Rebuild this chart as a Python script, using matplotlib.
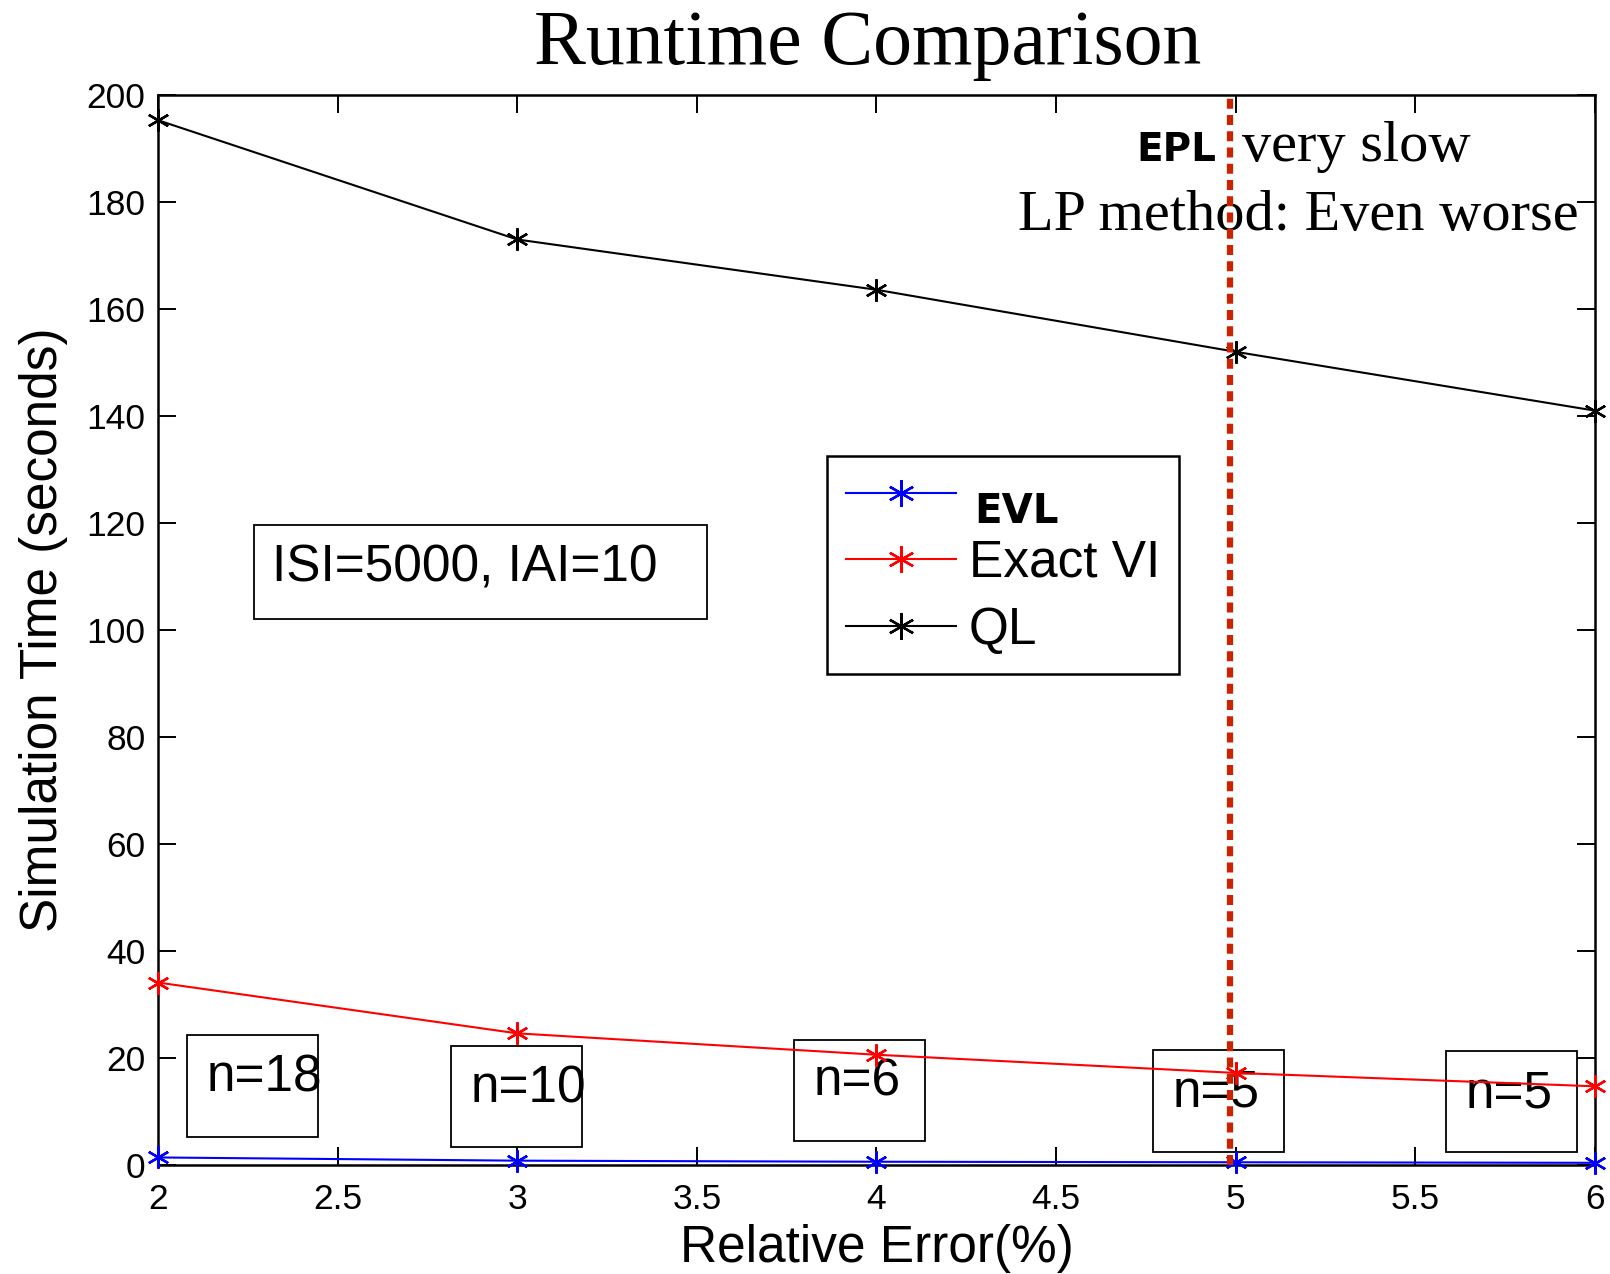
import matplotlib
matplotlib.use('Agg')
import matplotlib.pyplot as plt
from matplotlib.patches import Rectangle
from matplotlib.ticker import MultipleLocator, FormatStrFormatter

plt.rcParams['font.family'] = 'Liberation Sans'

# relative error (%) vs. simulation time (s)
rel_error = [2, 3, 4, 5, 6]
evl_time = [1.4, 0.8, 0.6, 0.5, 0.4]
exact_vi_time = [34.1, 24.6, 20.6, 17.2, 14.7]
ql_time = [195.3, 173.0, 163.6, 152.0, 141.0]

# number of iterations noted under each error level
n_labels = ['n=18', 'n=10', 'n=6', 'n=5', 'n=5']
# box lower-left corners (data coords)
n_box_x = [2.08, 2.815, 3.77, 4.77, 5.585]
n_box_y = [5.3, 3.3, 4.5, 2.5, 2.4]

epl_line_x = 4.984

fig = plt.figure(figsize=(16.1, 12.74), dpi=100)
ax = fig.add_axes([0.0981, 0.0856, 0.8926, 0.8398])

marker = (6, 2, 0)
mk = dict(marker=marker, markersize=16, markeredgewidth=1.7, linewidth=1.5)
l_evl, = ax.plot(rel_error, evl_time, color='#0000ff', clip_on=False, zorder=4, **mk)
l_vi, = ax.plot(rel_error, exact_vi_time, color='#ff0000', clip_on=False, zorder=4, **mk)
l_ql, = ax.plot(rel_error, ql_time, color='black', clip_on=False, zorder=4, **mk)

ax.axvline(epl_line_x, color='#cc2200', linewidth=4.5, linestyle=(0, (1.6, 1.0)), zorder=5)

ax.set_xlim(2, 6)
ax.set_ylim(0, 200)
ax.xaxis.set_major_locator(MultipleLocator(0.5))
ax.xaxis.set_major_formatter(FormatStrFormatter('%g'))
ax.yaxis.set_major_locator(MultipleLocator(20))
ax.tick_params(direction='in', length=13, width=1.4, labelsize=25.5,
               top=True, right=True)
ax.tick_params(axis='x', pad=13)
ax.tick_params(axis='y', pad=9)
for s in ax.spines.values():
    s.set_linewidth(1.8)

ax.set_xlabel('Relative Error(%)', fontsize=37, labelpad=6)
ax.set_ylabel('Simulation Time (seconds)', fontsize=37, labelpad=13)
ax.set_title('Runtime Comparison', fontsize=56, family='Liberation Serif',
             pad=22, x=0.494)

# iteration count boxes
for lab, bx, by in zip(n_labels, n_box_x, n_box_y):
    ax.add_patch(Rectangle((bx, by), 0.365, 18.9, fill=False, edgecolor='black',
                           linewidth=1.3, zorder=3))
    ax.text(bx + 0.055, by + 18.9 - 10.5, lab, fontsize=37, va='baseline',
            ha='left', zorder=3)

# problem size box
ax.add_patch(Rectangle((2.266, 102.1), 1.261, 17.6, fill=False,
                       edgecolor='black', linewidth=1.3))
ax.text(2.317, 109, 'ISI=5000, IAI=10', fontsize=37, va='baseline', ha='left')

# EPL note
ax.text(4.945, 187.7, 'EPL', fontsize=28, family='DejaVu Sans', weight='bold',
        va='baseline', ha='right')
ax.text(5.017, 187.7, 'very slow', fontsize=42, family='Liberation Serif',
        va='baseline', ha='left')
ax.text(5.175, 174.8, 'LP method: Even worse', fontsize=42,
        family='Liberation Serif', va='baseline', ha='center')

leg = ax.legend([l_evl, l_vi, l_ql], ['EVL', 'Exact VI', 'QL'],
                loc='upper left', bbox_to_anchor=(0.4656, 0.6626),
                borderaxespad=0, fontsize=37, fancybox=False, framealpha=1,
                edgecolor='black', handlelength=2.14, handletextpad=0.25,
                borderpad=0.37, labelspacing=0.36, markerscale=1.2)
leg.get_frame().set_linewidth(1.8)
t0 = leg.get_texts()[0]
t0.set_fontfamily('DejaVu Sans')
t0.set_fontweight('bold')
t0.set_fontsize(29)
t0.set_x(5)
t0.set_y(-12)

fig.savefig('out.png', dpi=100)
